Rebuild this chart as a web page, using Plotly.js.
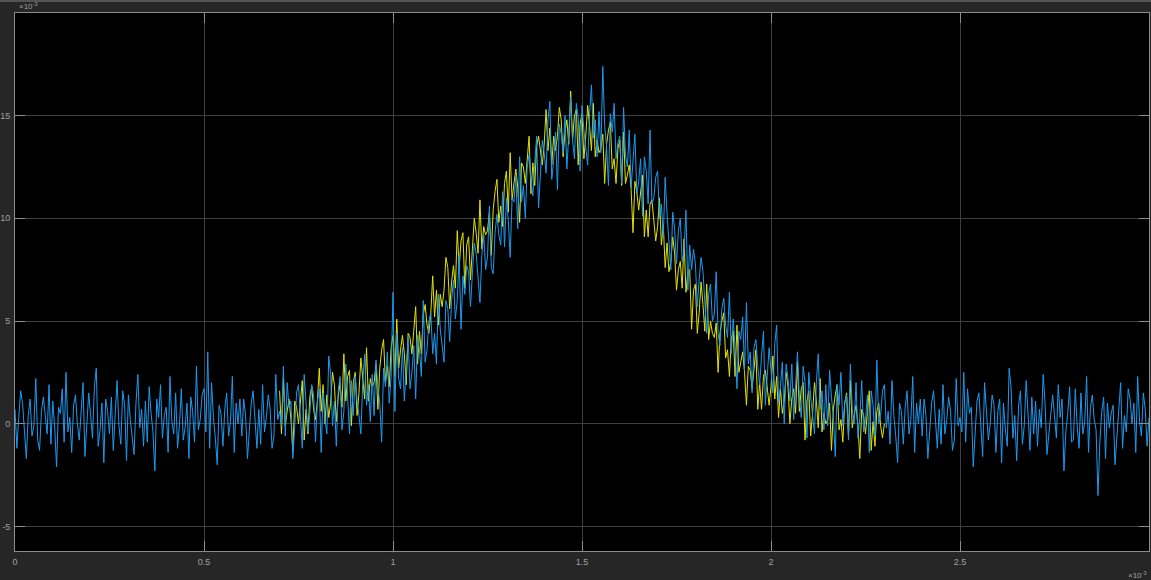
<!DOCTYPE html>
<html>
<head>
<meta charset="utf-8">
<script src="https://cdn.plot.ly/plotly-3.0.1.min.js"></script>
<style>
html,body{margin:0;padding:0;background:#262626;}
#chart{width:1151px;height:580px;}
</style>
</head>
<body>
<div id="chart"></div>
<script>
// x in units of 1e-3, y in units of 1e-3
const blueStart = 0.0;
const yellowStart = 0.7;
const sampleStep = 0.005;

const blueValues = [
0.7,-1.2,0.3,1.6,1.0,-0.3,-1.7,0.4,1.2,-0.6,
-0.1,2.2,-0.8,-1.3,0.6,1.3,0.2,-0.5,1.9,-1.0,
1.1,-0.2,-2.1,0.8,0.5,1.7,-0.9,2.5,-0.4,0.3,
-1.4,0.9,1.4,0.0,-0.8,0.7,2.0,-1.6,0.1,1.5,
0.4,-0.7,1.8,2.7,-1.1,-0.3,1.0,-1.9,1.2,0.6,
-0.5,1.3,-1.3,0.5,2.1,-0.1,-1.0,1.6,0.9,-1.8,
1.4,0.2,-0.6,-1.5,1.0,2.4,-0.2,0.7,-1.1,1.1,
-0.9,1.8,0.5,-0.4,-2.3,1.2,0.3,1.9,-0.7,0.4,
0.8,-1.4,2.3,0.1,-0.5,1.5,-1.2,-0.1,1.7,-0.8,
-0.2,1.0,-1.7,1.3,0.6,-0.9,2.8,-0.3,0.2,1.4,
1.7,-0.4,3.5,-1.2,2.0,0.3,-0.7,-2.0,0.9,0.5,
-1.1,0.7,1.5,-0.6,0.1,2.3,-1.4,1.0,0.0,1.2,
-0.6,1.2,0.4,-1.7,-0.3,1.0,1.6,0.3,-1.2,0.7,
-1.0,1.9,-0.4,0.3,1.4,0.7,-1.2,-0.6,2.4,0.2,
0.6,-0.1,2.8,-0.6,2.0,0.8,1.1,-1.7,0.2,1.5,
1.9,0.5,-1.2,2.4,1.1,-0.4,0.5,1.9,1.4,-0.9,
1.1,1.7,-1.4,1.5,0.2,-0.5,3.3,2.4,-0.1,1.1,
-1.1,1.6,2.3,-0.3,0.6,2.9,1.3,-0.5,2.1,0.4,
2.3,1.1,0.4,-0.5,2.0,3.4,0.9,1.9,0.1,2.4,
0.4,3.1,1.8,1.0,-0.9,2.7,1.8,3.5,1.0,2.3,
6.4,0.6,4.4,2.2,1.7,3.7,1.1,2.4,4.2,1.7,
2.5,3.8,1.2,4.3,3.6,2.3,6.0,3.0,3.6,5.0,
5.4,3.4,4.4,2.9,6.3,4.6,3.8,3.0,6.0,5.6,
4.0,6.0,7.0,5.1,6.0,8.2,4.6,7.2,6.3,7.7,
7.4,5.7,7.3,8.8,8.3,7.1,5.9,8.2,9.2,7.5,
8.1,10.6,7.6,7.3,9.3,10.2,9.2,8.7,11.3,8.6,
11.0,9.9,8.1,11.0,10.8,12.1,9.5,13.0,10.8,11.6,
10.0,12.5,13.1,11.8,11.1,12.7,14.0,10.5,12.3,13.8,
13.2,12.2,14.8,15.7,11.9,12.8,14.2,11.4,14.6,14.1,
13.2,15.0,12.4,14.3,15.9,13.8,12.9,15.6,14.9,12.3,
15.5,14.3,13.5,12.6,15.1,16.5,13.9,14.8,13.0,15.2,
13.2,17.4,14.5,13.5,11.6,15.1,14.2,15.6,12.9,13.7,
14.0,11.7,15.4,13.1,12.5,14.3,11.5,12.6,14.1,11.2,
11.8,12.9,10.1,13.0,12.3,10.7,14.3,10.7,11.0,12.0,
12.3,10.0,10.7,9.1,12.0,10.2,9.0,7.5,10.3,9.5,
7.8,9.4,10.0,7.9,8.4,10.4,6.5,8.7,7.5,8.5,
7.8,5.7,7.0,8.1,7.4,5.9,4.4,6.3,6.8,5.0,
5.3,7.4,4.4,3.8,5.6,6.1,4.8,4.2,6.4,3.4,
5.1,3.7,1.7,4.5,4.1,5.2,2.6,5.9,2.9,3.5,
1.5,3.7,4.1,2.8,1.9,3.3,4.5,0.9,2.4,3.7,
2.6,1.5,3.9,4.8,1.0,1.8,3.0,0.0,2.9,2.2,
1.1,2.9,0.2,2.0,3.5,1.3,0.3,2.8,2.0,-0.7,
2.5,1.3,0.5,-0.5,2.0,3.4,0.7,1.6,-0.3,1.9,
-0.1,2.6,1.3,0.3,-1.6,1.9,0.9,2.5,-0.1,1.0,
1.4,-0.8,2.9,0.7,0.0,2.0,-0.7,0.3,2.1,-0.4,
0.2,1.4,-1.4,1.6,0.9,-0.6,3.1,0.0,0.4,1.6,
1.9,-0.2,0.6,-1.0,2.1,0.4,-0.6,-1.9,1.0,0.6,
-1.0,0.8,1.6,-0.5,0.2,2.3,-1.4,1.0,0.0,1.2,
-0.6,1.2,0.4,-1.7,-0.3,1.0,1.6,0.3,-1.2,0.7,
-1.0,1.9,-0.5,0.2,1.3,0.6,-1.3,-0.8,2.2,-0.1,
0.3,-0.4,2.5,-0.9,1.7,0.5,0.8,-2.1,-0.2,1.1,
1.5,0.1,-1.6,2.0,0.7,-0.8,0.0,1.4,0.9,-1.4,
0.6,1.2,-1.9,1.0,-0.3,-1.1,2.7,1.8,-0.7,0.4,
-1.8,0.9,1.6,-1.0,-0.1,2.1,0.5,-1.3,1.3,-0.5,
1.1,-1.1,0.7,-0.2,2.4,1.0,-1.5,-0.6,0.2,1.4,
0.4,-0.7,1.9,0.3,1.2,-2.3,-0.4,0.5,1.8,-0.9,
-0.8,1.7,-0.1,-1.2,1.5,-0.5,0.1,2.3,-1.4,0.8,
1.4,0.2,-0.3,-3.5,-0.9,0.6,1.3,-1.7,1.0,-0.2,
0.5,0.9,-2.0,-0.7,0.3,2.0,-1.2,0.4,-0.4,1.7,
1.2,0.0,1.0,-1.4,2.3,0.1,-0.6,1.5,0.7,-1.1,
0.3
];

const yellowValues = [
1.6,-0.5,2.2,-0.1,0.6,1.2,0.2,-1.4,1.1,0.8,
0.0,1.1,2.1,-0.8,0.7,-0.5,1.3,1.8,0.7,0.2,
1.1,2.7,0.6,1.9,0.0,1.4,0.3,1.0,2.5,1.9,
0.1,1.3,2.0,0.8,3.4,1.1,2.3,2.6,-0.1,2.0,
2.5,0.4,1.5,3.2,2.3,1.2,3.7,1.1,2.2,1.8,
2.0,2.9,0.7,2.7,3.6,4.1,2.0,2.8,1.8,3.7,
4.3,2.3,5.1,2.7,3.6,4.3,3.4,1.9,4.4,4.2,
3.4,4.6,5.7,2.9,4.5,3.4,5.3,5.8,4.8,4.4,
5.4,7.2,5.2,6.5,4.8,6.3,5.7,6.5,8.1,7.6,
5.6,6.9,7.7,6.6,9.4,7.6,8.9,9.3,6.6,8.7,
9.1,7.0,8.3,10.0,9.3,8.3,10.9,8.5,9.6,9.2,
9.4,10.3,8.2,10.4,11.3,11.9,9.8,10.6,9.6,11.7,
12.3,10.3,13.2,10.9,11.7,12.4,11.5,9.8,12.7,12.5,
11.7,12.9,14.0,11.2,12.7,11.6,13.5,14.0,13.2,12.6,
13.6,15.3,13.3,14.4,12.6,14.0,13.3,14.0,15.4,14.8,
13.0,14.2,14.8,13.6,16.2,13.8,15.0,15.3,12.6,14.6,
15.1,12.9,14.0,15.5,14.5,13.3,15.6,13.0,13.8,13.2,
13.4,14.1,11.7,13.6,14.3,14.7,12.4,12.9,11.7,13.4,
13.8,11.6,14.2,11.7,12.1,12.6,11.4,9.3,11.8,11.3,
10.4,11.3,12.1,9.1,10.4,9.1,10.7,10.9,9.7,8.9,
9.6,11.0,8.7,9.7,7.6,8.8,7.4,7.9,9.1,8.3,
6.5,7.5,7.9,6.6,9.0,6.4,7.4,7.5,4.6,6.5,
6.8,4.4,5.4,6.9,5.8,4.5,6.8,4.1,5.0,4.4,
4.2,4.9,2.5,4.4,5.0,5.4,3.2,3.6,2.3,4.1,
4.5,2.3,4.8,2.5,3.0,3.5,2.5,0.9,2.8,2.6,
1.7,2.7,3.6,0.7,2.0,0.7,2.3,2.6,1.6,0.9,
1.8,3.3,1.2,2.3,0.3,1.7,0.5,1.1,2.5,1.8,
0.0,1.2,1.7,0.5,3.0,0.6,1.7,2.0,-0.8,1.1,
1.6,-0.6,0.5,2.0,1.1,-0.2,2.2,-0.4,0.5,0.0,
0.2,1.0,-1.3,0.7,1.4,1.9,-0.3,0.2,-0.9,1.0,
1.5,-0.6,2.1,-0.2,0.4,0.9,-0.1,-1.7,0.7,0.4,
-0.5,0.6,1.6,-1.3,0.1,-1.1,0.6,1.0,-0.1,-0.7,
0.0
];

const xTickVals = [0, 0.5, 1, 1.5, 2, 2.5, 3];
const xTickText = ['0', '0.5', '1', '1.5', '2', '2.5', '3'];
const yTickVals = [-5, 0, 5, 10, 15];
const yTickText = ['-5', '0', '5', '10', '15'];

const blueX = blueValues.map((_, i) => blueStart + i * sampleStep);
const yellowX = yellowValues.map((_, i) => yellowStart + i * sampleStep);

const traces = [
  {x: yellowX, y: yellowValues, type: 'scatter', mode: 'lines',
   line: {color: '#e3e300', width: 1}, hoverinfo: 'skip'},
  {x: blueX, y: blueValues, type: 'scatter', mode: 'lines',
   line: {color: '#1c9af0', width: 1}, hoverinfo: 'skip'}
];

const axisCommon = {
  showgrid: true, gridcolor: '#3f3f3f', gridwidth: 1,
  zeroline: false, showline: true, linecolor: '#8c8c8c', linewidth: 1,
  mirror: 'ticks', ticks: 'inside', ticklen: 10, tickcolor: '#8c8c8c', tickwidth: 1,
  tickfont: {family: 'Liberation Sans, Arial, sans-serif', size: 9, color: '#a0a0a0'},
  tickmode: 'array'
};

const layout = {
  width: 1151, height: 580,
  paper_bgcolor: '#262626', plot_bgcolor: '#000000',
  margin: {l: 15, r: 2, t: 13, b: 29},
  showlegend: false,
  xaxis: Object.assign({}, axisCommon, {range: [0, 3], tickvals: xTickVals, ticktext: xTickText, ticklabelstandoff: 2}),
  yaxis: Object.assign({}, axisCommon, {range: [-6.2, 20], tickvals: yTickVals, ticktext: yTickText, ticklabelstandoff: 2}),
  annotations: [
    {text: '\u00d710<sup>-3</sup>', xref: 'paper', yref: 'paper', x: 0.002, y: 1.0, xanchor: 'left', yanchor: 'bottom',
     showarrow: false, font: {family: 'Liberation Sans, Arial, sans-serif', size: 8, color: '#a0a0a0'}},
    {text: '\u00d710<sup>-3</sup>', xref: 'paper', yref: 'paper', x: 1.0, y: -0.032, xanchor: 'right', yanchor: 'top',
     showarrow: false, font: {family: 'Liberation Sans, Arial, sans-serif', size: 8, color: '#a0a0a0'}}
  ],
  shapes: [
    {type: 'rect', xref: 'paper', yref: 'paper', x0: -0.02, x1: 1.01, y0: 1.0205, y1: 1.03, line: {width: 0}, fillcolor: '#555555', layer: 'below'}
  ]
};

Plotly.newPlot('chart', traces, layout, {displayModeBar: false, staticPlot: true});
</script>
</body>
</html>
